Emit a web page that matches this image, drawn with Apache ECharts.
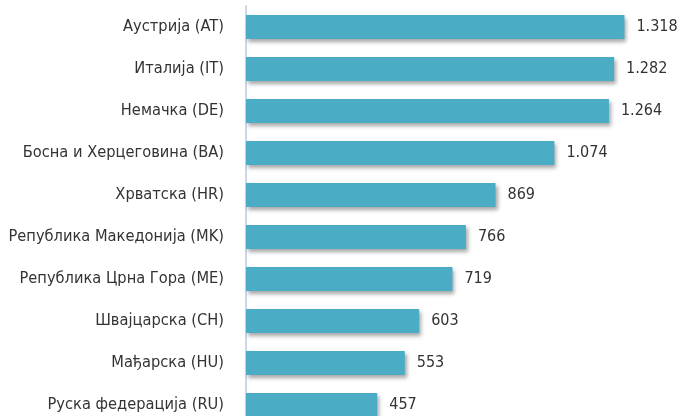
<!DOCTYPE html>
<html><head><meta charset="utf-8">
<script src="https://cdn.jsdelivr.net/npm/echarts@6/dist/echarts.min.js"></script>
<style>html,body{margin:0;padding:0;background:#fff;overflow:hidden}#c{width:682px;height:428px}</style>
</head><body><div id="c"></div>
<script>
const categories = ["Аустрија (AT)","Италија (IT)","Немачка (DE)","Босна и Херцеговина (BA)","Хрватска (HR)","Република Македонија (MK)","Република Црна Гора (ME)","Швајцарска (CH)","Мађарска (HU)","Руска федерација (RU)"];
const values = [1318,1282,1264,1074,869,766,719,603,553,457];
const FONT = "'DejaVu Sans Condensed', 'Liberation Sans Narrow', sans-serif";
function fmt(v){return String(v).replace(/\B(?=(\d{3})+(?!\d))/g,'.');}
const chart = echarts.init(document.getElementById('c'));
chart.setOption({
  animation:false,
  grid:{left:246,top:6,width:402,height:420,containLabel:false},
  xAxis:{type:'value',min:0,max:1400,show:false},
  yAxis:{type:'category',data:categories,inverse:true,
    axisLine:{show:true,lineStyle:{color:'#c6d9f1',width:2}},
    axisTick:{show:false},
    axisLabel:{margin:22,color:'#333333',fontSize:16.3,fontFamily:FONT}},
  series:[{type:'bar',data:values,barWidth:24,
    itemStyle:{color:'#4aacc5',shadowColor:'rgba(0,0,0,0.35)',shadowBlur:4,shadowOffsetX:2,shadowOffsetY:3},
    label:{show:true,position:'right',distance:12,color:'#333333',fontSize:16,fontFamily:FONT,
      formatter:p=>fmt(p.value)}}]
});
</script></body></html>
